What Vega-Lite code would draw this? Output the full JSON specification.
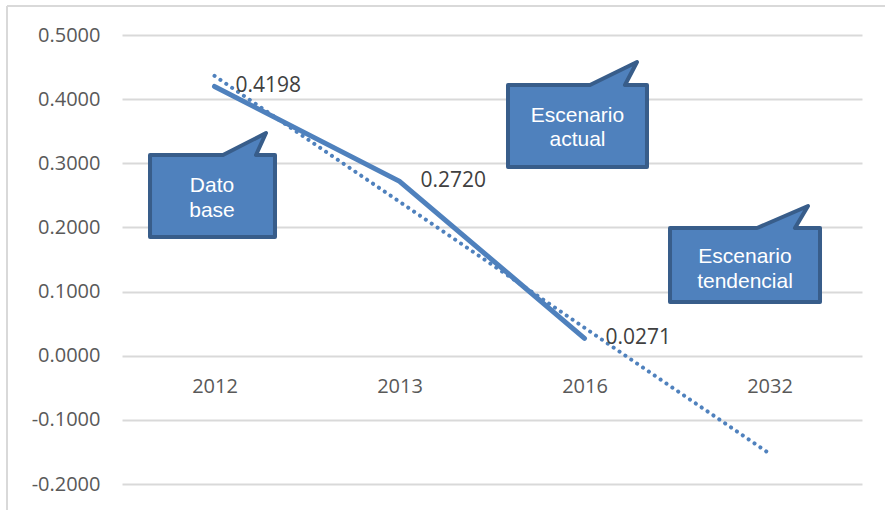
{
  "$schema": "https://vega.github.io/schema/vega-lite/v6.json",
  "width": 740,
  "height": 449,
  "autosize": "none",
  "padding": {"left": 122, "top": 35, "right": 23, "bottom": 26},
  "background": "white",
  "config": {"view": {"stroke": null}, "font": "Open Sans"},
  "datasets": {
    "main": [
      {"year": "2012", "value": 0.4198, "trend": 0.4363, "label": "0.4198"},
      {"year": "2013", "value": 0.272, "trend": 0.24, "label": "0.2720"},
      {"year": "2016", "value": 0.0271, "trend": 0.0436, "label": "0.0271"},
      {"year": "2032", "value": null, "trend": -0.1527, "label": null}
    ],
    "shapes": [
      {"shape": "dato", "i": 1, "cx": 0.1514, "cy": 0.3129},
      {"shape": "dato", "i": 2, "cx": 0.5459, "cy": 0.3129},
      {"shape": "dato", "i": 3, "cx": 0.7784, "cy": 0.3472},
      {"shape": "dato", "i": 4, "cx": 0.7243, "cy": 0.3129},
      {"shape": "dato", "i": 5, "cx": 0.827, "cy": 0.3129},
      {"shape": "dato", "i": 6, "cx": 0.827, "cy": 0.1851},
      {"shape": "dato", "i": 7, "cx": 0.1514, "cy": 0.1851},
      {"shape": "actual", "i": 1, "cx": 2.0865, "cy": 0.4221},
      {"shape": "actual", "i": 2, "cx": 2.5297, "cy": 0.4221},
      {"shape": "actual", "i": 3, "cx": 2.7838, "cy": 0.4579},
      {"shape": "actual", "i": 4, "cx": 2.7189, "cy": 0.4221},
      {"shape": "actual", "i": 5, "cx": 2.8378, "cy": 0.4221},
      {"shape": "actual", "i": 6, "cx": 2.8378, "cy": 0.2942},
      {"shape": "actual", "i": 7, "cx": 2.0865, "cy": 0.2942},
      {"shape": "tend", "i": 1, "cx": 2.9622, "cy": 0.1991},
      {"shape": "tend", "i": 2, "cx": 3.4324, "cy": 0.1991},
      {"shape": "tend", "i": 3, "cx": 3.7081, "cy": 0.2334},
      {"shape": "tend", "i": 4, "cx": 3.6378, "cy": 0.1991},
      {"shape": "tend", "i": 5, "cx": 3.773, "cy": 0.1991},
      {"shape": "tend", "i": 6, "cx": 3.773, "cy": 0.0837},
      {"shape": "tend", "i": 7, "cx": 2.9622, "cy": 0.0837}
    ],
    "texts": [
      {"t": "Dato", "cx": 0.4865, "cy": 0.2557},
      {"t": "base", "cx": 0.4865, "cy": 0.2167},
      {"t": "Escenario", "cx": 2.4622, "cy": 0.3648},
      {"t": "actual", "cx": 2.4622, "cy": 0.3269},
      {"t": "Escenario", "cx": 3.3676, "cy": 0.1445},
      {"t": "tendencial", "cx": 3.3676, "cy": 0.1048}
    ],
    "border": [
      {"x1": -0.6216, "x2": -0.6216, "y1": 0.5452, "y2": -0.26},
      {"x1": -0.6216, "x2": 4.2, "y1": 0.5452, "y2": 0.5452}
    ]
  },
  "layer": [
    {
      "data": {"name": "main"},
      "encoding": {
        "x": {
          "field": "year", "type": "ordinal",
          "scale": {"paddingInner": 0, "paddingOuter": 0},
          "axis": {
            "orient": "bottom", "offset": -128.3, "domain": false, "ticks": false, "grid": false,
            "labelAngle": 0, "title": null, "labelFontSize": 20, "labelColor": "#595959",
            "labelPadding": 31, "labelBaseline": "middle", "labelFont": "Open Sans"
          }
        }
      },
      "layer": [
        {
          "mark": {"type": "line", "color": "#4f81bd", "strokeWidth": 5, "strokeCap": "round"},
          "encoding": {
            "y": {
              "field": "value", "type": "quantitative",
              "scale": {"domain": [-0.2, 0.5], "nice": false, "zero": false},
              "axis": {
                "values": [-0.2, -0.1, 0, 0.1, 0.2, 0.3, 0.4, 0.5],
                "labelExpr": "replace(format(datum.value, '.4f'), '\u2212', '-')",
                "domain": false, "ticks": false, "grid": true, "gridColor": "#d9d9d9", "gridWidth": 2,
                "labelFontSize": 20, "labelColor": "#595959", "labelPadding": 22, "title": null,
                "labelFont": "Open Sans"
              }
            }
          }
        },
        {
          "mark": {"type": "line", "color": "#4f81bd", "strokeWidth": 4, "strokeCap": "round", "strokeDash": [0.1, 7]},
          "encoding": {
            "y": {"field": "trend", "type": "quantitative", "scale": {"domain": [-0.2, 0.5], "nice": false, "zero": false}}
          }
        },
        {
          "transform": [{"filter": "datum.label != null"}],
          "mark": {"type": "text", "align": "left", "baseline": "middle", "dx": 21, "fontSize": 21, "color": "#404040", "font": "Open Sans"},
          "encoding": {
            "y": {"field": "value", "type": "quantitative", "scale": {"domain": [-0.2, 0.5], "nice": false, "zero": false}},
            "text": {"field": "label"}
          }
        }
      ]
    },
    {
      "data": {"name": "shapes"},
      "mark": {"type": "line", "interpolate": "linear-closed", "fill": "#4f81bd", "stroke": "#385d8a", "strokeWidth": 4, "strokeJoin": "round"},
      "encoding": {
        "x": {"field": "cx", "type": "quantitative", "scale": {"domain": [0, 4], "nice": false, "zero": false}, "axis": null},
        "y": {"field": "cy", "type": "quantitative", "scale": {"domain": [-0.2, 0.5], "nice": false, "zero": false}},
        "order": {"field": "i", "type": "quantitative"},
        "detail": {"field": "shape"}
      }
    },
    {
      "data": {"name": "texts"},
      "mark": {"type": "text", "align": "center", "baseline": "alphabetic", "fontSize": 21, "color": "white", "font": "Liberation Sans"},
      "encoding": {
        "x": {"field": "cx", "type": "quantitative", "scale": {"domain": [0, 4], "nice": false, "zero": false}, "axis": null},
        "y": {"field": "cy", "type": "quantitative", "scale": {"domain": [-0.2, 0.5], "nice": false, "zero": false}},
        "text": {"field": "t"}
      }
    },
    {
      "data": {"name": "border"},
      "mark": {"type": "rule", "color": "#d9d9d9", "strokeWidth": 2},
      "encoding": {
        "x": {"field": "x1", "type": "quantitative", "scale": {"domain": [0, 4], "nice": false, "zero": false}, "axis": null},
        "x2": {"field": "x2"},
        "y": {"field": "y1", "type": "quantitative", "scale": {"domain": [-0.2, 0.5], "nice": false, "zero": false}},
        "y2": {"field": "y2"}
      }
    }
  ],
  "resolve": {"scale": {"x": "independent"}}
}
